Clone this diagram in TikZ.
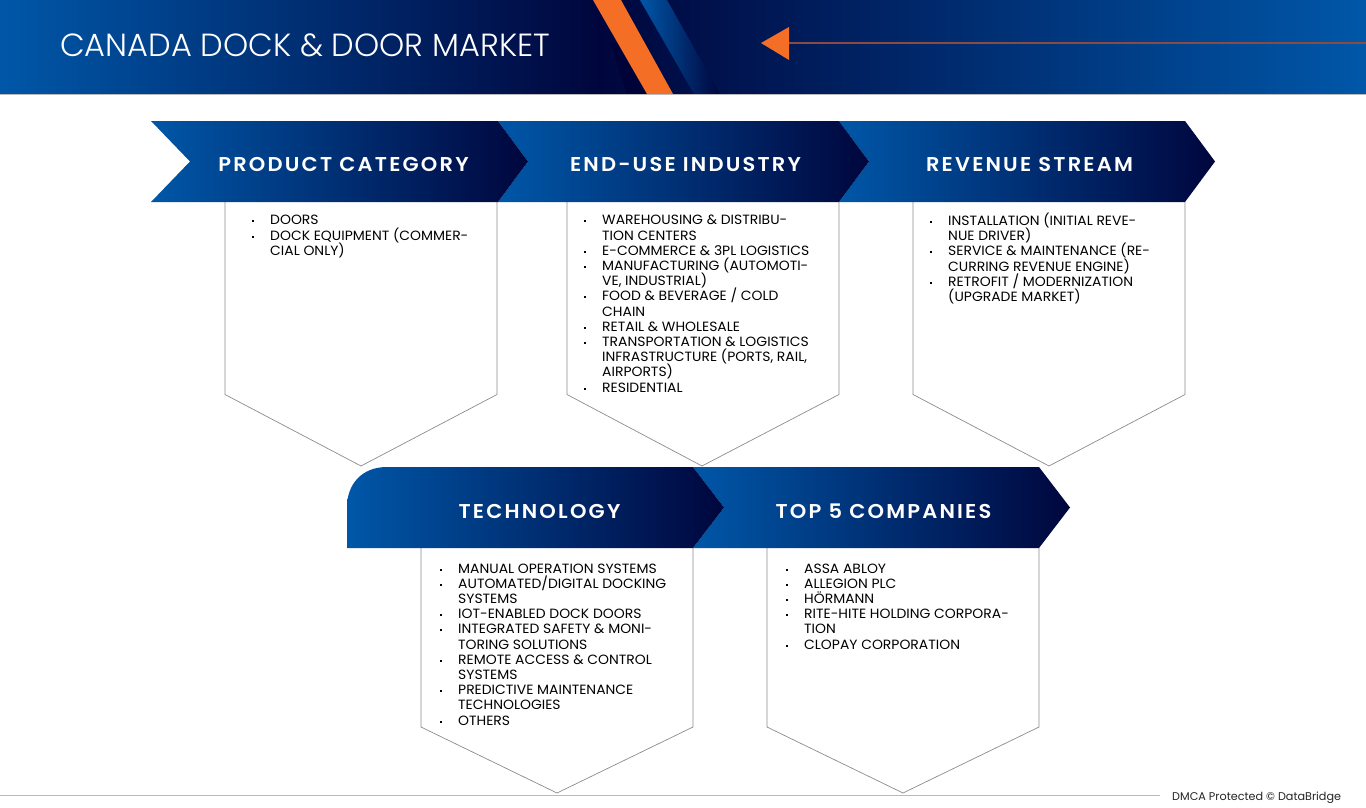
\documentclass[tikz,border=0pt]{standalone}
\usepackage{fontspec}
\setmainfont{Poppins}
\newfontfamily\titlefont{Poppins Light}
\newfontfamily\headfont[LetterSpace=11,FakeStretch=1.05]{Poppins SemiBold}
\newfontfamily\bodyfont[FakeStretch=1.04]{Poppins}
\newfontfamily\footfont{Poppins}
\definecolor{dbblue}{HTML}{0057A8}
\definecolor{dbnavy}{HTML}{00063D}
\definecolor{dbshadow}{HTML}{000338}
\definecolor{dborange}{HTML}{F56E26}
\definecolor{dbline}{HTML}{8A4B45}
\definecolor{dbedge}{HTML}{8C8C8C}
\newcommand{\bul}{\leavevmode\llap{\rule[2.5pt]{2.1pt}{2.1pt}\hspace{16.3pt}}}
\newcommand{\first}{\rule{0pt}{12pt}\bul}
\tikzset{
  x=1pt,y=-1pt,
  banner/.style={left color=dbblue,right color=dbnavy,shading angle=90},
  panel/.style={draw=dbedge,line width=0.7pt,fill=white},
  headtext/.style={text=white,font=\headfont\fontsize{20}{22}\selectfont,inner sep=0pt,anchor=center},
  listtext/.style={text=black,font=\bodyfont\fontsize{13.4}{15.2}\selectfont,inner sep=0pt,anchor=north west,align=left},
}
\begin{document}
\begin{tikzpicture}
\useasboundingbox (0,0) rectangle (1366,808);
\fill[white] (0,0) rectangle (1366,808);
% header band
\shade[left color=dbblue,right color=dbnavy] (0,0) rectangle (600,94);
\shade[left color=dbnavy,right color=dbblue] (600,0) rectangle (1366,94);
\fill[dbedge!60] (0,94) rectangle (1366,95);
\fill[dbshadow] (610,43) -- (627,94) -- (647,94) -- (621,43) -- cycle;
\fill[dborange] (593,0) -- (621,0) -- (673,94) -- (647,94) -- cycle;
\shade[left color=dbblue,right color=dbnavy] (640,0) -- (667,0) -- (720,94) -- (694,94) -- cycle;
\fill[dbline] (785,42.3) rectangle (1366,43.7);
\fill[dborange] (761,43) -- (789,27) -- (789,60) -- cycle;
\node[text=white,font=\titlefont\fontsize{32}{38}\selectfont,inner sep=0pt,anchor=west] (title) at (60,45) {CANADA DOCK \& DOOR MARKET};
% panels
\draw[panel] (225,202) -- (225,394.5) -- (361,466) -- (497,394.5) -- (497,202);
\draw[panel] (567,202) -- (567,394.5) -- (702,466) -- (839,394.5) -- (839,202);
\draw[panel] (913,202) -- (913,394.5) -- (1049,466) -- (1185,394.5) -- (1185,202);
\draw[panel] (421,548) -- (421,727) -- (557,793) -- (693,727) -- (693,548);
\draw[panel] (767,548) -- (767,727) -- (903,793) -- (1039,727) -- (1039,548);
% banners
\shade[banner] (839,121) -- (1185,121) -- (1215,161.5) -- (1185,202) -- (839,202) -- (869,161.5) -- cycle;
\shade[banner] (498,121) -- (839,121) -- (869,161.5) -- (839,202) -- (498,202) -- (528,161.5) -- cycle;
\shade[banner] (151,121) -- (498,121) -- (528,161.5) -- (498,202) -- (151,202) -- (190,161.5) -- cycle;
\shade[banner] (693,467) -- (1039,467) -- (1070,507.5) -- (1039,548) -- (693,548) -- (724,507.5) -- cycle;
\shade[banner] (347,548) -- (347,507) .. controls (347,484) and (362,467) .. (387,467) -- (693,467) -- (724,507.5) -- (693,548) -- cycle;
% banner labels
\node[headtext] (h1) at (343.5,164.5) {PRODUCT CATEGORY};
\node[headtext] (h2) at (685.5,164.5) {END-USE INDUSTRY};
\node[headtext] (h3) at (1029.5,164.5) {REVENUE STREAM};
\node[headtext] (h4) at (539.5,511.5) {TECHNOLOGY};
\node[headtext] (h5) at (883.5,511.5) {TOP 5 COMPANIES};
% lists
\node[listtext] (l1) at (270,212.7) {\first DOORS\\\bul DOCK EQUIPMENT (COMMER-\\CIAL ONLY)};
\node[listtext] (l2) at (602,212.7) {\first WAREHOUSING \& DISTRIBU-\\TION CENTERS\\\bul E-COMMERCE \& 3PL LOGISTICS\\\bul MANUFACTURING (AUTOMOTI-\\VE, INDUSTRIAL)\\\bul FOOD \& BEVERAGE / COLD\\CHAIN\\\bul RETAIL \& WHOLESALE\\\bul TRANSPORTATION \& LOGISTICS\\INFRASTRUCTURE (PORTS, RAIL,\\AIRPORTS)\\\bul RESIDENTIAL};
\node[listtext] (l3) at (948,212.7) {\first INSTALLATION (INITIAL REVE-\\NUE DRIVER)\\\bul SERVICE \& MAINTENANCE (RE-\\CURRING REVENUE ENGINE)\\\bul RETROFIT / MODERNIZATION\\(UPGRADE MARKET)};
\node[listtext] (l4) at (458,560.9) {\first MANUAL OPERATION SYSTEMS\\\bul AUTOMATED/DIGITAL DOCKING\\SYSTEMS\\\bul IOT-ENABLED DOCK DOORS\\\bul INTEGRATED SAFETY \& MONI-\\TORING SOLUTIONS\\\bul REMOTE ACCESS \& CONTROL\\SYSTEMS\\\bul PREDICTIVE MAINTENANCE\\TECHNOLOGIES\\\bul OTHERS};
\node[listtext] (l5) at (804,560.9) {\first ASSA ABLOY\\\bul ALLEGION PLC\\\bul HÖRMANN\\\bul RITE-HITE HOLDING CORPORA-\\TION\\\bul CLOPAY CORPORATION};
% footer
\fill[dbedge!60] (0,794.7) rectangle (1160,795.5);
\node[text=black!85,font=\footfont\fontsize{11.2}{13}\selectfont,inner sep=0pt,anchor=west] (dmca) at (1172,797.5) {DMCA Protected © DataBridge};
\end{tikzpicture}
\end{document}
